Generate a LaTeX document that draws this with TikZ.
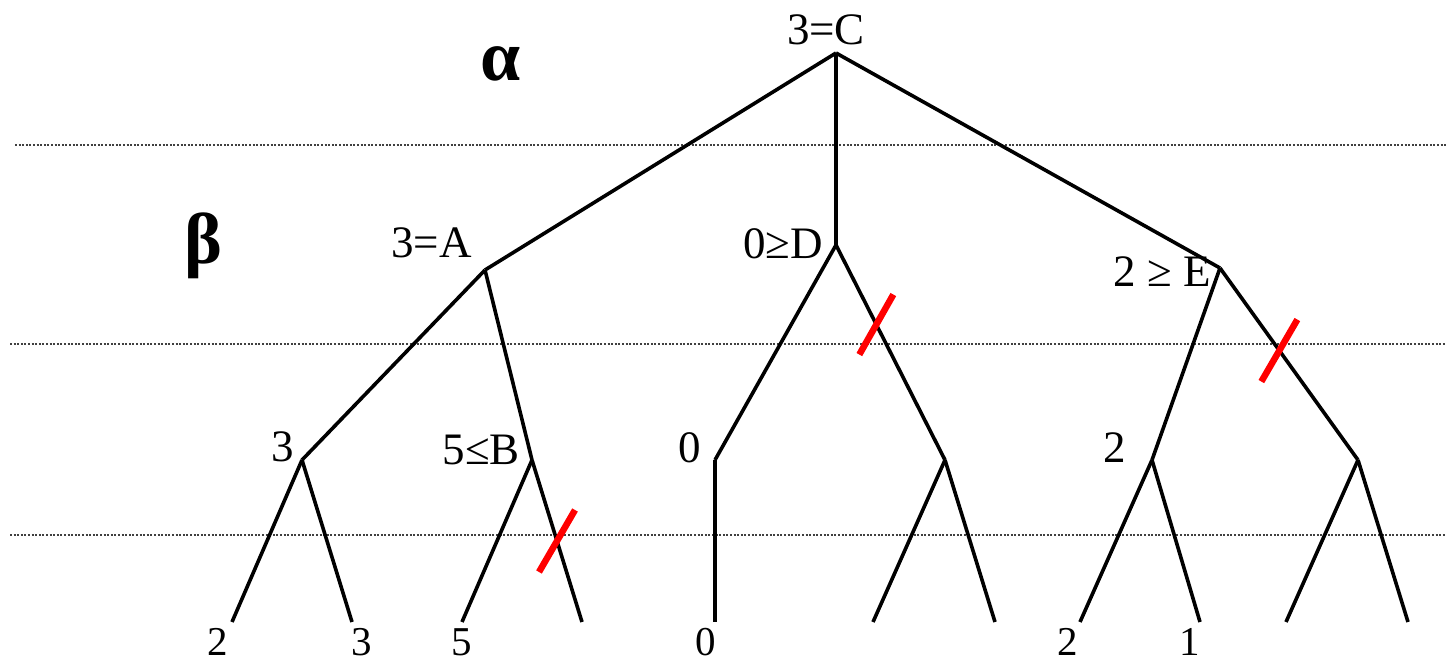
\documentclass[tikz,border=0pt]{standalone}
\usepackage{fontspec}
\setmainfont{Liberation Serif}
\usetikzlibrary{calc}
\begin{document}
\begin{tikzpicture}[x=1pt,y=-1pt,
  edge/.style={line width=3.6pt,black},
  dotline/.style={line width=1.6pt,black!75,dash pattern=on 2pt off 1.6pt},
  cut/.style={line width=6.5pt,red},
  lbl/.style={font=\fontsize{45}{50}\selectfont,inner sep=0pt},
  leaflbl/.style={font=\fontsize{41}{45}\selectfont,inner sep=0pt},
  greek/.style={font=\fontsize{72}{76}\selectfont\bfseries,inner sep=0pt}]
\useasboundingbox (0,0) rectangle (1446,666);
% dotted level lines
\coordinate (l1a) at (15,145); \coordinate (l1b) at (1446,145);
\coordinate (l2a) at (10,344); \coordinate (l2b) at (1446,344);
\coordinate (l3a) at (10,535); \coordinate (l3b) at (1446,535);
\draw[dotline] (l1a) -- (l1b);
\draw[dotline] (l2a) -- (l2b);
\draw[dotline] (l3a) -- (l3b);
% tree vertices
\coordinate (C) at (836,53);
\coordinate (A) at (485,270);
\coordinate (D) at (836,245);
\coordinate (E) at (1220,268);
\coordinate (A1) at (302,460);
\coordinate (B) at (532,460);
\coordinate (D1) at (715,460);
\coordinate (D2) at (945,460);
\coordinate (E1) at (1152,460);
\coordinate (E2) at (1358,460);
\coordinate (a11) at (232,622); \coordinate (a12) at (352,622);
\coordinate (b1) at (462,622); \coordinate (b2) at (582,622);
\coordinate (d11) at (715,622);
\coordinate (d21) at (873,622); \coordinate (d22) at (995,622);
\coordinate (e11) at (1080,622); \coordinate (e12) at (1200,622);
\coordinate (e21) at (1286,622); \coordinate (e22) at (1408,622);
% edges
\draw[edge] (C) -- (A);
\draw[edge,line width=4pt] (C) -- (D);
\draw[edge] (C) -- (E);
\draw[edge] (A) -- (A1);
\draw[edge] (A) -- (B);
\draw[edge] (D) -- (D1);
\draw[edge] (D) -- (D2);
\draw[edge] (E) -- (E1);
\draw[edge] (E) -- (E2);
\draw[edge] (A1) -- (a11);
\draw[edge] (A1) -- (a12);
\draw[edge] (B) -- (b1);
\draw[edge] (B) -- (b2);
\draw[edge,line width=4.2pt] (D1) -- (d11);
\draw[edge] (D2) -- (d21);
\draw[edge] (D2) -- (d22);
\draw[edge] (E1) -- (e11);
\draw[edge] (E1) -- (e12);
\draw[edge] (E2) -- (e21);
\draw[edge] (E2) -- (e22);
% cuts
\coordinate (s1) at ($(B)!0.5!(b2)$);
\coordinate (s2) at ($(D)!0.37!(D2)$);
\coordinate (s3) at ($(E)!0.43!(E2)$);
\draw[cut] ($(s1)+(-18,31)$) -- ($(s1)+(18,-31)$);
\draw[cut] ($(s2)+(-17,30)$) -- ($(s2)+(17,-30)$);
\draw[cut] ($(s3)+(-18,31)$) -- ($(s3)+(18,-31)$);
% level labels
\node[greek] (alpha) at (501,64) {α};
\node[greek] (beta) at (203,246) {β};
% node labels
\node[lbl] (tC) at (826,30) {3=C};
\node[lbl,anchor=east] (tA) at (472,243) {3=A};
\node[lbl,anchor=east] (tD) at (823,244) {0≥D};
\node[lbl,anchor=east] (tE) at (1211,272) {2 ≥ E};
\node[lbl] (tA1) at (283,447) {3};
\node[lbl,anchor=east] (tB) at (520,450) {5≤B};
\node[lbl] (tD1) at (690,448) {0};
\node[lbl] (tE1) at (1115,448) {2};
% leaf labels
\node[leaflbl] (v1) at (218,642) {2};
\node[leaflbl] (v2) at (362,642) {3};
\node[leaflbl] (v3) at (462,642) {5};
\node[leaflbl] (v4) at (706,642) {0};
\node[leaflbl] (v5) at (1068,642) {2};
\node[leaflbl] (v6) at (1190,642) {1};
\end{tikzpicture}
\end{document}
